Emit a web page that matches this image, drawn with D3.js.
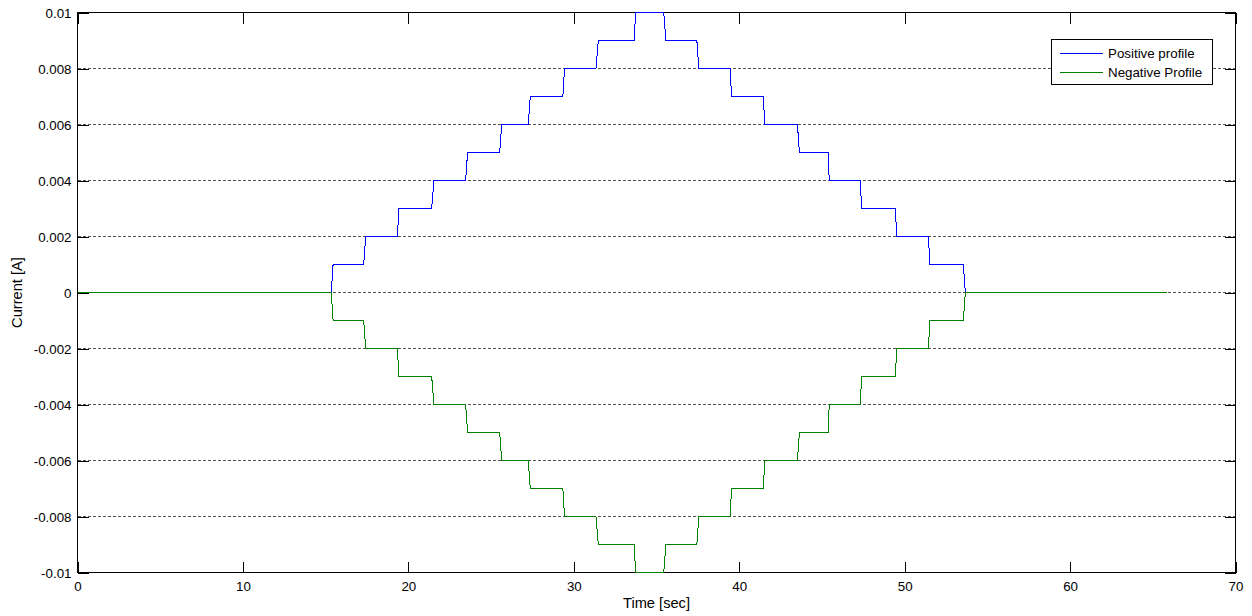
<!DOCTYPE html>
<html>
<head>
<meta charset="utf-8">
<script src="https://cdn.jsdelivr.net/npm/d3@7/dist/d3.min.js"></script>
<style>
  html, body { margin: 0; padding: 0; background: #fff; }
  svg { display: block; }
  text { font-family: "Liberation Sans", Arial, sans-serif; fill: #000; }
</style>
</head>
<body>
<svg id="chart" width="1252" height="616"></svg>
<script>
// Current profiles: sampled (time, current) points of the staircase ramps
const positiveTime = [
  0, 15.34, 15.45, 17.30, 17.42, 19.35, 19.41, 21.41, 21.55, 23.46, 23.58,
  25.52, 25.64, 27.25, 27.37, 29.34, 29.44, 31.34, 31.48, 33.66, 33.73,
  35.44, 35.57, 37.44, 37.56, 39.46, 39.53, 41.47, 41.53, 43.52, 43.64,
  45.38, 45.44, 47.33, 47.39, 49.44, 49.52, 51.44, 51.52, 53.55, 53.67, 65.86
];
const positiveCurrent = [
  0, 0, 0.001, 0.001, 0.002, 0.002, 0.003, 0.003, 0.004, 0.004, 0.005,
  0.005, 0.006, 0.006, 0.007, 0.007, 0.008, 0.008, 0.009, 0.009, 0.010,
  0.010, 0.009, 0.009, 0.008, 0.008, 0.007, 0.007, 0.006, 0.006, 0.005,
  0.005, 0.004, 0.004, 0.003, 0.003, 0.002, 0.002, 0.001, 0.001, 0, 0
];
const negativeTime = positiveTime.slice();
const negativeCurrent = [
  0, 0, -0.001, -0.001, -0.002, -0.002, -0.003, -0.003, -0.004, -0.004, -0.005,
  -0.005, -0.006, -0.006, -0.007, -0.007, -0.008, -0.008, -0.009, -0.009, -0.010,
  -0.010, -0.009, -0.009, -0.008, -0.008, -0.007, -0.007, -0.006, -0.006, -0.005,
  -0.005, -0.004, -0.004, -0.003, -0.003, -0.002, -0.002, -0.001, -0.001, 0, 0
];

const xTicks = [0, 10, 20, 30, 40, 50, 60, 70];
const xTickLabels = ["0", "10", "20", "30", "40", "50", "60", "70"];
const yTicks = [-0.01, -0.008, -0.006, -0.004, -0.002, 0, 0.002, 0.004, 0.006, 0.008, 0.01];
const yTickLabels = ["-0.01", "-0.008", "-0.006", "-0.004", "-0.002", "0", "0.002", "0.004", "0.006", "0.008", "0.01"];

const seriesNames = ["Positive profile", "Negative Profile"];
const seriesColors = ["#0000ff", "#008000"];

const plotLeft = 77.5, plotRight = 1235.5, plotTop = 12.5, plotBottom = 572.5;
const tickLen = 11;
const tickFont = "13.33px", labelFont = "14.67px";

const svg = d3.select("#chart");
const x = d3.scaleLinear().domain([0, 70]).range([plotLeft, plotRight]);
const y = d3.scaleLinear().domain([-0.01, 0.01]).range([plotBottom, plotTop]);
const snap = v => Math.floor(v) + 0.5;

// horizontal dashed grid
svg.append("g")
  .selectAll("line")
  .data(yTicks.filter(v => v > -0.01 && v < 0.01))
  .join("line")
  .attr("x1", plotLeft).attr("x2", plotRight)
  .attr("y1", d => snap(y(d))).attr("y2", d => snap(y(d)))
  .attr("stroke", "#555").attr("stroke-width", 1)
  .attr("stroke-dasharray", "3,2")
  .attr("shape-rendering", "crispEdges");

// axes with inward ticks on all four sides
const fmtX = d => xTickLabels[xTicks.indexOf(d)];
const fmtY = d => yTickLabels[yTicks.indexOf(d)];

function styleAxis(g) {
  g.select(".domain").remove();
  g.selectAll(".tick line").attr("stroke", "#000").attr("shape-rendering", "crispEdges");
  g.selectAll(".tick text")
    .style("font-family", '"Liberation Sans", Arial, sans-serif')
    .style("font-size", tickFont).attr("fill", "#000");
}

svg.append("g").attr("transform", `translate(0,${plotBottom})`)
  .call(d3.axisBottom(x).tickValues(xTicks).tickFormat(fmtX).tickSizeInner(-tickLen).tickSizeOuter(0))
  .call(styleAxis)
  .call(g => g.selectAll(".tick text").attr("y", 18).attr("dy", 0));

svg.append("g").attr("transform", `translate(0,${plotTop})`)
  .call(d3.axisTop(x).tickValues(xTicks).tickFormat("").tickSizeInner(-tickLen).tickSizeOuter(0))
  .call(styleAxis);

svg.append("g").attr("transform", `translate(${plotLeft},0)`)
  .call(d3.axisLeft(y).tickValues(yTicks).tickFormat(fmtY).tickSizeInner(-tickLen).tickSizeOuter(0))
  .call(styleAxis)
  .call(g => g.selectAll(".tick text").attr("x", -6).attr("dy", "0.36em"));

svg.append("g").attr("transform", `translate(${plotRight},0)`)
  .call(d3.axisRight(y).tickValues(yTicks).tickFormat("").tickSizeInner(-tickLen).tickSizeOuter(0))
  .call(styleAxis);

// plot box
svg.append("rect")
  .attr("x", plotLeft).attr("y", plotTop)
  .attr("width", plotRight - plotLeft).attr("height", plotBottom - plotTop)
  .attr("fill", "none").attr("stroke", "#000").attr("stroke-width", 1)
  .attr("shape-rendering", "crispEdges");

// profile lines
const line = d3.line().x(d => x(d[0])).y(d => snap(y(d[1])));
const series = [
  d3.zip(positiveTime, positiveCurrent),
  d3.zip(negativeTime, negativeCurrent)
];
series.forEach((pts, i) => {
  svg.append("path")
    .datum(pts)
    .attr("d", line)
    .attr("fill", "none")
    .attr("stroke", seriesColors[i])
    .attr("stroke-width", 1)
    .attr("shape-rendering", "crispEdges");
});

// axis labels
svg.append("text")
  .attr("x", (plotLeft + plotRight) / 2).attr("y", 607.5)
  .attr("text-anchor", "middle")
  .style("font-size", labelFont)
  .text("Time [sec]");

svg.append("text")
  .attr("transform", `translate(21.5,${(plotTop + plotBottom) / 2}) rotate(-90)`)
  .attr("text-anchor", "middle")
  .style("font-size", labelFont)
  .text("Current [A]");

// legend
const legend = svg.append("g");
legend.append("rect")
  .attr("x", 1051.5).attr("y", 39.5).attr("width", 161).attr("height", 45)
  .attr("fill", "#fff").attr("stroke", "#000").attr("shape-rendering", "crispEdges");
seriesNames.forEach((name, i) => {
  const ly = 53.5 + i * 19;
  legend.append("line")
    .attr("x1", 1060).attr("x2", 1103).attr("y1", ly).attr("y2", ly)
    .attr("stroke", seriesColors[i]).attr("stroke-width", 1)
    .attr("shape-rendering", "crispEdges");
  legend.append("text")
    .attr("x", 1108).attr("y", ly + 4.8)
    .style("font-size", tickFont)
    .text(name);
});
</script>
</body>
</html>
